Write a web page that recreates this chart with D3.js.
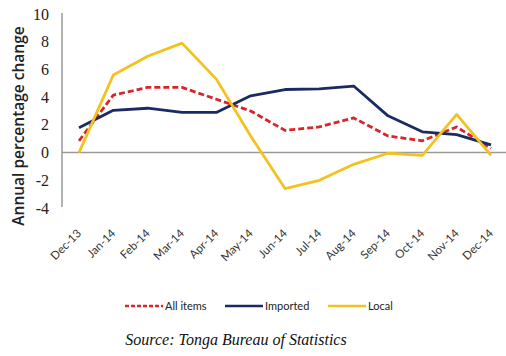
<!DOCTYPE html>
<html>
<head>
<meta charset="utf-8">
<title>Tonga CPI</title>
<script src="https://cdn.jsdelivr.net/npm/d3@7/dist/d3.min.js"></script>
<style>
  body { margin: 0; background: #fff; }
</style>
</head>
<body>
<script>
// data
var months = ["Dec-13","Jan-14","Feb-14","Mar-14","Apr-14","May-14","Jun-14","Jul-14","Aug-14","Sep-14","Oct-14","Nov-14","Dec-14"];
var allItems = [0.85, 4.15, 4.7, 4.7, 3.85, 3.0, 1.6, 1.85, 2.5, 1.2, 0.85, 1.85, 0.3];
var imported = [1.8, 3.05, 3.2, 2.9, 2.9, 4.1, 4.55, 4.6, 4.8, 2.65, 1.5, 1.3, 0.55];
var local = [0.0, 5.6, 6.95, 7.9, 5.3, 1.2, -2.6, -2.0, -0.85, -0.05, -0.2, 2.75, -0.2];
var yTicks = [-4, -2, 0, 2, 4, 6, 8, 10];

var w = 506, h = 356;

var series = [
  {name: "All items", values: allItems, color: "#d7262b", dash: "6,3"},
  {name: "Imported", values: imported, color: "#1a2b63", dash: null},
  {name: "Local", values: local, color: "#f4c21f", dash: null}
];

var svg = d3.select("body").append("svg")
  .attr("width", w)
  .attr("height", h);

var x = d3.scalePoint().domain(months).range([79, 491]);
var y = d3.scaleLinear().domain([-4, 10]).range([208, 14]);

// y axis line
svg.append("line")
  .attr("x1", 62).attr("x2", 62)
  .attr("y1", 13).attr("y2", 207)
  .attr("stroke", "#9a9a9a").attr("stroke-width", 1.5);

// zero line
svg.append("line")
  .attr("x1", 62).attr("x2", 506)
  .attr("y1", y(0)).attr("y2", y(0))
  .attr("stroke", "#9a9a9a").attr("stroke-width", 1.5);

// y tick labels
svg.selectAll(".ytick")
  .data(yTicks)
  .enter().append("text")
  .attr("class", "ytick")
  .attr("x", 49)
  .attr("y", function(d) { return y(d); })
  .attr("dy", "0.35em")
  .attr("text-anchor", "end")
  .attr("font-family", "'Liberation Serif', serif")
  .attr("font-size", 16)
  .attr("fill", "#222")
  .text(function(d) { return d; });

// x tick labels, rotated
svg.selectAll(".xtick")
  .data(months)
  .enter().append("text")
  .attr("class", "xtick")
  .attr("transform", function(d) { return "translate(" + (x(d) + 3) + ",234) rotate(-45)"; })
  .attr("text-anchor", "end")
  .attr("font-family", "Lato, sans-serif")
  .attr("font-size", 11.5)
  .attr("fill", "#333")
  .text(function(d) { return d; });

// y axis title
svg.append("text")
  .attr("transform", "translate(24,126) rotate(-90)")
  .attr("text-anchor", "middle")
  .attr("font-family", "'Open Sans', sans-serif")
  .attr("font-weight", 600)
  .attr("font-size", 15.5)
  .attr("fill", "#222")
  .text("Annual percentage change");

// lines
var line = d3.line()
  .x(function(d, i) { return x(months[i]); })
  .y(function(d) { return y(d); });

svg.selectAll(".series")
  .data(series)
  .enter().append("path")
  .attr("class", "series")
  .attr("d", function(s) { return line(s.values); })
  .attr("fill", "none")
  .attr("stroke", function(s) { return s.color; })
  .attr("stroke-width", 2.8)
  .attr("stroke-dasharray", function(s) { return s.dash; })
  .attr("stroke-linejoin", "round");

// legend
var legendX = [125, 225, 328];
var lg = svg.selectAll(".legend")
  .data(series)
  .enter().append("g")
  .attr("class", "legend")
  .attr("transform", function(s, i) { return "translate(" + legendX[i] + ",306)"; });

lg.append("line")
  .attr("x1", 0).attr("x2", 38)
  .attr("y1", 0).attr("y2", 0)
  .attr("stroke", function(s) { return s.color; })
  .attr("stroke-width", 2.5)
  .attr("stroke-dasharray", function(s) { return s.dash ? "4,2" : null; });

lg.append("text")
  .attr("x", 40)
  .attr("y", 0)
  .attr("dy", "0.35em")
  .attr("font-family", "Lato, sans-serif")
  .attr("font-size", 11)
  .attr("fill", "#222")
  .text(function(s) { return s.name; });

// source note
svg.append("text")
  .attr("x", 236)
  .attr("y", 345)
  .attr("text-anchor", "middle")
  .attr("font-family", "'Liberation Serif', serif")
  .attr("font-style", "italic")
  .attr("font-size", 16)
  .attr("fill", "#111")
  .text("Source: Tonga Bureau of Statistics");
</script>
</body>
</html>
